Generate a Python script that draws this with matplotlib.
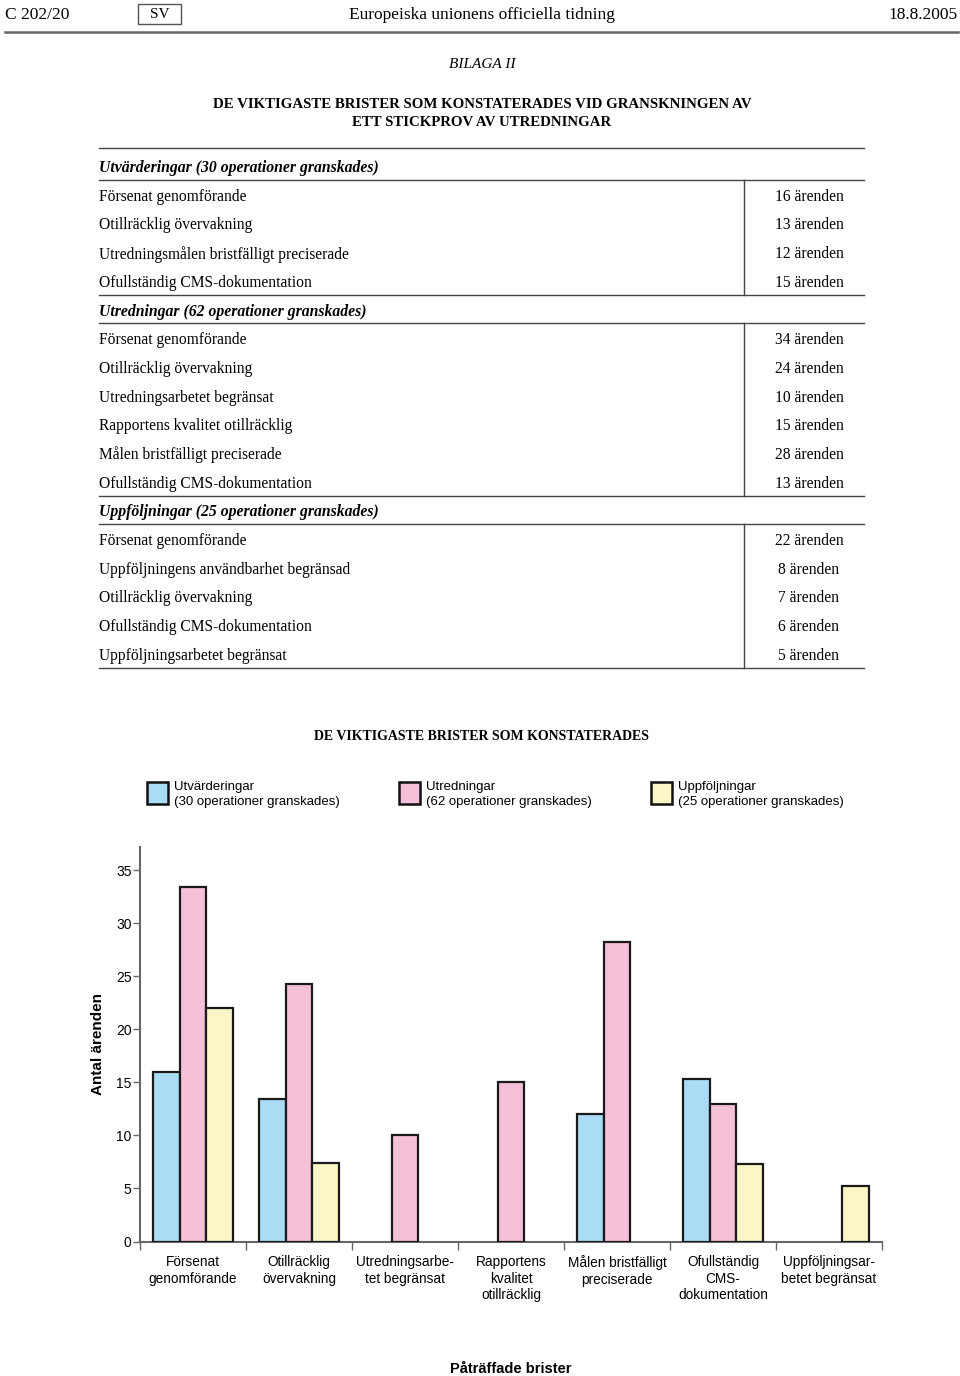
import numpy as np
import matplotlib
matplotlib.use('Agg')
import matplotlib.pyplot as plt

# --- Table data (page text) ---
group_titles = ['Utvärderingar (30 operationer granskades)',
                'Utredningar (62 operationer granskades)',
                'Uppföljningar (25 operationer granskades)']
group_rows = [
    ['Försenat genomförande', 'Otillräcklig övervakning',
     'Utredningsmålen bristfälligt preciserade', 'Ofullständig CMS-dokumentation'],
    ['Försenat genomförande', 'Otillräcklig övervakning', 'Utredningsarbetet begränsat',
     'Rapportens kvalitet otillräcklig', 'Målen bristfälligt preciserade',
     'Ofullständig CMS-dokumentation'],
    ['Försenat genomförande', 'Uppföljningens användbarhet begränsad',
     'Otillräcklig övervakning', 'Ofullständig CMS-dokumentation',
     'Uppföljningsarbetet begränsat'],
]
group_counts = [[16, 13, 12, 15], [34, 24, 10, 15, 28, 13], [22, 8, 7, 6, 5]]

# --- Chart data (as drawn in the bar chart) ---
categories = ['Försenat\ngenomförande', 'Otillräcklig\növervakning',
              'Utredningsarbe-\ntet begränsat', 'Rapportens\nkvalitet\notillräcklig',
              'Målen bristfälligt\npreciserade', 'Ofullständig\nCMS-\ndokumentation',
              'Uppföljningsar-\nbetet begränsat']
utv = [16, 13.4, np.nan, np.nan, 12, 15.3, np.nan]
utr = [33.4, 24.3, 10, 15, 28.2, 13, np.nan]
upp = [22, 7.4, np.nan, np.nan, np.nan, 7.3, 5.2]
series_labels = ['Utvärderingar\n(30 operationer granskades)',
                 'Utredningar\n(62 operationer granskades)',
                 'Uppföljningar\n(25 operationer granskades)']
colors = ['#aadcf6', '#f6c0d8', '#faf6c6']

serif = 'Liberation Serif'
sans = 'Liberation Sans'

fig = plt.figure(figsize=(9.6, 13.76), dpi=100)
page = fig.add_axes([0, 0, 1, 1])
page.set_xlim(0, 960)
page.set_ylim(1376, 0)
page.axis('off')

# header
page.text(5, 15, 'C 202/20', fontsize=12.5, family=serif, va='center', ha='left')
page.add_patch(plt.Rectangle((138, 4), 43, 20, fill=False, ec='#555555', lw=1))
page.text(159.5, 15, 'SV', fontsize=11, family=serif, va='center', ha='center')
page.text(482, 15, 'Europeiska unionens officiella tidning', fontsize=12.5,
          family=serif, va='center', ha='center')
page.text(958, 15, '18.8.2005', fontsize=12.5, family=serif, va='center', ha='right')
page.plot([5, 958], [32, 32], color='#666666', lw=1.8)

page.text(482, 64, 'BILAGA II', fontsize=11, family=serif, style='italic',
          va='center', ha='center')
page.text(482, 105, 'DE VIKTIGASTE BRISTER SOM KONSTATERADES VID GRANSKNINGEN AV',
          fontsize=10.7, family=serif, weight='bold', va='center', ha='center')
page.text(482, 123, 'ETT STICKPROV AV UTREDNINGAR',
          fontsize=10.7, family=serif, weight='bold', va='center', ha='center')

# table
row_h = 28.7
x0, x1, xsep = 99, 864, 744
lc = '#444444'
page.plot([x0, x1], [148, 148], color=lc, lw=1)
y = 166
for title, rows, counts in zip(group_titles, group_rows, group_counts):
    page.text(x0, y + 2, title, fontsize=11.3, family=serif, style='italic',
              weight='bold', va='center', ha='left')
    top = y + 14
    page.plot([x0, x1], [top, top], color=lc, lw=1)
    y += row_h
    for r, c in zip(rows, counts):
        page.text(x0, y + 2, r, fontsize=11.2, family=serif, va='center', ha='left')
        page.text(809, y + 2, f'{c} ärenden', fontsize=11.2, family=serif,
                  va='center', ha='center')
        y += row_h
    bot = y - row_h + 14
    page.plot([x0, x1], [bot, bot], color=lc, lw=1)
    page.plot([xsep, xsep], [top, bot], color=lc, lw=1)

# chart titles
page.text(482, 736, 'DE VIKTIGASTE BRISTER SOM KONSTATERADES', fontsize=10,
          family=serif, weight='bold', va='center', ha='center')
for lx, lab, col in zip([147, 399, 651], series_labels, colors):
    page.add_patch(plt.Rectangle((lx, 782), 21, 22, fc=col, ec='#111111', lw=1.8))
    page.text(lx + 27, 794.5, lab, fontsize=9.5, family=sans, va='center', ha='left',
              linespacing=1.4)

# bar chart
ax = fig.add_axes([140 / 960, 1 - 1241.5 / 1376, 742 / 960, 394.5 / 1376])
x = np.arange(len(categories))
w = 0.25
for i, (vals, col) in enumerate(zip([utv, utr, upp], colors)):
    ax.bar(x + (i - 1) * w, vals, w, color=col, edgecolor='#1a1a1a', linewidth=1.6,
           zorder=3)

ax.set_xlim(-0.5, len(categories) - 0.5)
ax.set_ylim(0, 37.2)
for s in ['top', 'right']:
    ax.spines[s].set_visible(False)
for s in ['left', 'bottom']:
    ax.spines[s].set_color('#666666')
    ax.spines[s].set_linewidth(1.5)

ax.set_yticks(np.arange(0, 36, 5))
ax.tick_params(axis='y', length=5, width=1, color='#666666', pad=1, labelsize=10)
ax.set_xticks(x)
ax.set_xticklabels(categories, fontsize=9.8, family=sans, linespacing=1.22)
ax.tick_params(axis='x', length=0, pad=10)
ax.set_xticks(np.arange(-0.5, len(categories)), minor=True)
ax.tick_params(axis='x', which='minor', length=6, width=1, color='#666666')
for lbl in ax.get_yticklabels():
    lbl.set_family(sans)

ax.set_ylabel('Antal ärenden', fontsize=11, family=sans, weight='bold', labelpad=8)
page.text(511, 1369, 'Påträffade brister', fontsize=10.5, family=sans,
          weight='bold', va='center', ha='center')

fig.savefig('out.png', dpi=100)
